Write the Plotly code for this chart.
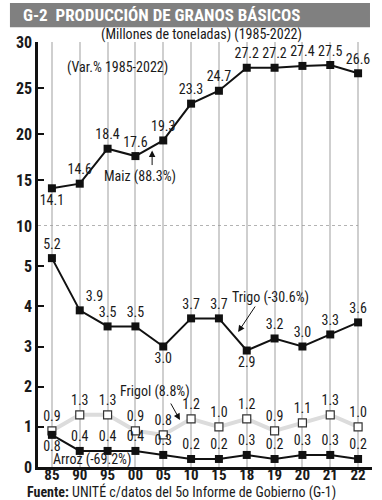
import plotly.graph_objects as go

years = ["85", "90", "95", "00", "05", "10", "15", "18", "19", "20", "21", "22"]
maiz = [14.1, 14.6, 18.4, 17.6, 19.3, 23.3, 24.7, 27.2, 27.2, 27.4, 27.5, 26.6]
trigo = [5.2, 3.9, 3.5, 3.5, 3.0, 3.7, 3.7, 2.9, 3.2, 3.0, 3.3, 3.6]
frijol = [0.9, 1.3, 1.3, 0.9, 0.8, 1.2, 1.0, 1.2, 0.9, 1.1, 1.3, 1.0]
arroz = [0.8, 0.4, 0.4, 0.4, 0.3, 0.2, 0.2, 0.3, 0.2, 0.3, 0.3, 0.2]

FONT = "Liberation Sans Narrow, Roboto Condensed, DejaVu Sans Condensed, Roboto, sans-serif"
TXT = "#1a1a1a"

maiz_pos = ["bottom center"] + ["top center"] * 11
trigo_pos = ["top center"] * 12
trigo_pos[1] = "top right"
trigo_pos[4] = "bottom center"
trigo_pos[7] = "bottom center"
arroz_pos = ["bottom center"] + ["top center"] * 11

fig = go.Figure()
fig.add_trace(go.Scatter(
    x=years, y=frijol, mode="lines+markers+text", yaxis="y",
    line=dict(color="#dcdcdc", width=4),
    marker=dict(symbol="square", size=8, color="white", line=dict(color="#333333", width=1.2)),
    text=[f"{v:.1f}" for v in frijol], textposition="top center",
    textfont=dict(family=FONT, size=14, color=TXT), cliponaxis=False))
fig.add_trace(go.Scatter(
    x=years, y=arroz, mode="lines+markers+text", yaxis="y",
    line=dict(color="#111111", width=2),
    marker=dict(symbol="square", size=8, color="#111111"),
    text=[f"{v:.1f}" for v in arroz], textposition=arroz_pos,
    textfont=dict(family=FONT, size=14, color=TXT), cliponaxis=False))
fig.add_trace(go.Scatter(
    x=years, y=trigo, mode="lines+markers+text", yaxis="y",
    line=dict(color="#111111", width=2),
    marker=dict(symbol="square", size=8, color="#111111"),
    text=[f"{v:.1f}" for v in trigo], textposition=trigo_pos,
    textfont=dict(family=FONT, size=14, color=TXT), cliponaxis=False))
fig.add_trace(go.Scatter(
    x=years, y=maiz, mode="lines+markers+text", yaxis="y2",
    line=dict(color="#111111", width=2),
    marker=dict(symbol="square", size=8, color="#111111"),
    text=[f"{v:.1f}" for v in maiz], textposition=maiz_pos,
    textfont=dict(family=FONT, size=14, color=TXT), cliponaxis=False))

split = 241 / 425
fig.update_layout(
    width=382, height=500,
    margin=dict(l=38, r=10, t=42, b=33),
    paper_bgcolor="white", plot_bgcolor="white",
    showlegend=False,
    font=dict(family=FONT, color=TXT),
    xaxis=dict(type="category", categoryorder="array", categoryarray=years,
               range=[-0.5, 11.5], showgrid=True, gridcolor="#cfcfcf", gridwidth=1.5,
               showline=True, linecolor="#111111", linewidth=2.5, ticks="",
               ticklabelstandoff=-8,
               tickfont=dict(family=FONT, size=15, color=TXT, weight="bold"), anchor="y", zeroline=False),
    yaxis=dict(domain=[0, split], range=[0, 6], tickvals=[0, 1, 2, 3, 4, 5],
               showgrid=False, zeroline=False, showline=True, linecolor="#111111",
               linewidth=2.5, ticks="inside", ticklen=6, tickwidth=2, tickcolor="#111111",
               tickfont=dict(family=FONT, size=16, color=TXT, weight="bold"), anchor="x"),
    yaxis2=dict(domain=[split, 1], range=[10, 30], tickvals=[10, 15, 20, 25, 30],
                showgrid=False, zeroline=False, showline=True, linecolor="#111111",
                linewidth=2.5, ticks="inside", ticklen=6, tickwidth=2, tickcolor="#111111",
                tickfont=dict(family=FONT, size=16, color=TXT, weight="bold"), anchor="x"),
)

shapes = [
    dict(type="rect", xref="paper", yref="paper", x0=-0.084, x1=0.994, y0=1.035, y1=1.092,
         fillcolor="#808080", line=dict(width=0), layer="below"),
    dict(type="line", xref="x", yref="y2", x0=-0.5, x1=11, y0=10, y1=10,
         line=dict(color="#9a9a9a", width=1.5, dash="dot")),
]
fig.update_layout(shapes=shapes)

ann = [
    dict(xref="paper", yref="paper", x=-0.05, y=1.063, xanchor="left", yanchor="middle",
         text="<b>G-2  PRODUCCIÓN DE GRANOS BÁSICOS</b>", showarrow=False,
         font=dict(family=FONT, size=17, color="white")),
    dict(xref="paper", yref="paper", x=0.49, y=1.018, xanchor="center", yanchor="middle",
         text="(Millones de toneladas) (1985-2022)", showarrow=False,
         font=dict(family=FONT, size=14, color=TXT)),
    dict(xref="x", yref="y2", x=2.34, y=27.2, text="(Var.% 1985-2022)", showarrow=False,
         font=dict(family=FONT, size=14, color=TXT)),
    dict(xref="x", yref="y2", x=3.17, y=15.4, text="Maiz (88.3%)", showarrow=False,
         font=dict(family=FONT, size=14, color=TXT)),
    dict(xref="x", yref="y2", x=3.6, y=18.2, ax=0, ay=16, text="", showarrow=True,
         arrowhead=2, arrowsize=1.3, arrowwidth=1, arrowcolor="#111111"),
    dict(xref="x", yref="y", x=7.84, y=4.23, text="Trigo (-30.6%)", showarrow=False,
         font=dict(family=FONT, size=14, color=TXT)),
    dict(xref="x", yref="y", x=6.69, y=3.36, ax=18, ay=-27, text="", showarrow=True,
         arrowhead=2, arrowsize=1.3, arrowwidth=1, arrowcolor="#111111"),
    dict(xref="x", yref="y", x=3.7, y=1.87, text="Frigol (8.8%)", showarrow=False,
         font=dict(family=FONT, size=14, color=TXT)),
    dict(xref="x", yref="y", x=4.6, y=1.17, ax=-10, ay=-18, text="", showarrow=True,
         arrowhead=2, arrowsize=1.3, arrowwidth=1, arrowcolor="#111111"),
    dict(xref="x", yref="y", x=1.44, y=0.19, text="Arroz (-69.2%)", showarrow=False,
         font=dict(family=FONT, size=14, color=TXT)),
    dict(xref="paper", yref="paper", x=0.43, y=-0.058, xanchor="center", yanchor="middle",
         text="<b>Fuente:</b> UNITÉ c/datos del 5o Informe de Gobierno (G-1)", showarrow=False,
         font=dict(family=FONT, size=14, color=TXT)),
]
fig.update_layout(annotations=ann)

fig.write_html("out.html", config={"displayModeBar": False},
               post_script="document.body.style.margin='0';")
